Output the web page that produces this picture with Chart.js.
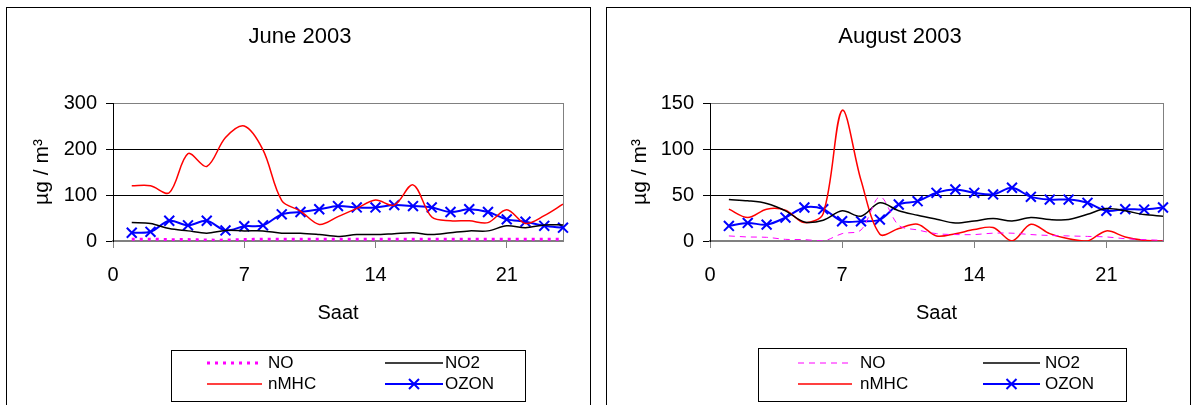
<!DOCTYPE html>
<html><head><meta charset="utf-8">
<script src="https://cdn.jsdelivr.net/npm/chart.js@4.4.1/dist/chart.umd.min.js"></script>
<style>
html,body{margin:0;padding:0;background:#fff;width:1191px;height:405px;overflow:hidden;}
.panel{position:absolute;border:1px solid #000;box-sizing:border-box;}
#p1{left:6px;top:7px;width:585px;height:420px;}
#p2{left:606px;top:7px;width:585px;height:420px;}
.cv{position:absolute;top:0;}
#w1{left:0;width:598px;height:405px;}
#w2{left:598px;width:593px;height:405px;}
canvas{display:block;}
</style></head><body>
<div class="panel" id="p1"></div><div class="panel" id="p2"></div>
<div class="cv" id="w1"><canvas id="c1" width="598" height="405"></canvas></div>
<div class="cv" id="w2"><canvas id="c2" width="593" height="405"></canvas></div>
<script>
// ---- data ----
const hours = [1,2,3,4,5,6,7,8,9,10,11,12,13,14,15,16,17,18,19,20,21,22,23,24];
const xTickLabels = [0,7,14,21];
const seriesLabels = ['NO','NO2','nMHC','OZON'];

const juneTitle = 'June 2003';
const juneNO   = [4,4,3,3,2,2,3,4,4,4,4,4,4,4,4,4,4,4,4,4,4,4,4,4];
const juneNO2  = [40,38,27,22,17,23,22,22,17,17,14,10,14,14,16,18,14,18,22,22,33,29,35,35];
const juneNMHC = [120,120,105,190,162,225,250,198,88,65,36,53,71,89,78,122,52,44,44,40,68,38,55,80];
const juneOZON = [18,20,44,34,44,23,32,34,58,63,69,76,73,73,78,76,73,63,69,63,47,42,33,29];
const juneYMax = 300, juneYStep = 100;

const augTitle = 'August 2003';
const augNO   = [5.5,4.4,4,1.8,1.5,0,8,12,48,17,12,8,7,7,8.5,8.5,7,6,5.5,5,4.4,2.5,1.5,0.7];
const augNO2  = [45,43.7,40.8,32.8,20.7,22.6,32.8,27,41.5,32.8,28,23.7,19.6,21.8,24.4,21.8,25.5,23.3,23.3,29,35.3,32.8,28.7,27];
const augNMHC = [34.6,25.5,34.6,33.5,20,30,142,66,7.3,13.5,18.2,5.5,8,12.4,14.6,0,18.2,8,2.5,0,11,4.4,0.7,0];
const augOZON = [16.4,19.6,17.8,25.5,36.4,34.6,21.5,21.5,23.3,39.7,43.3,52.4,56,52.4,50.6,57.9,48,45,45,41.5,32.8,34.6,34.2,36.4];
const augYMax = 150, augYStep = 50;

const xTitle = 'Saat';
const yTitle = 'µg / m³';

// ---- rendering ----
const FONT = '"Liberation Sans", Arial, Helvetica, sans-serif';
Chart.defaults.font.family = FONT;
Chart.defaults.font.size = 20;
Chart.defaults.color = '#000';

function pts(arr){ return hours.map((h,i)=>({x:h, y:arr[i]})); }

const panelDecor = {
  id: 'panelDecor',
  beforeDatasetsDraw(chart){
    const {ctx, chartArea:a} = chart;
    ctx.save();
    ctx.strokeStyle = '#808080'; ctx.lineWidth = 1;
    ctx.beginPath(); ctx.moveTo(a.right+0.5, a.top); ctx.lineTo(a.right+0.5, a.bottom); ctx.stroke();
    ctx.restore();
  },
  afterDraw(chart, args, o){
    const ctx = chart.ctx;
    ctx.save();
    ctx.fillStyle = '#000';
    ctx.font = '22px ' + FONT;
    ctx.textAlign = 'center'; ctx.textBaseline = 'middle';
    ctx.fillText(o.title, o.titleX, o.titleY);
    // legend
    const L = o.legend;
    ctx.strokeStyle = '#000'; ctx.lineWidth = 1;
    ctx.strokeRect(L.box[0]+0.5, L.box[1]+0.5, L.box[2], L.box[3]);
    chart.data.datasets.forEach((ds,i)=>{
      const it = L.items[i];
      ctx.save();
      ctx.beginPath();
      ctx.setLineDash(ds.borderDash || []);
      ctx.strokeStyle = ds.borderColor; ctx.lineWidth = ds.borderWidth;
      ctx.moveTo(it[0], it[3]); ctx.lineTo(it[1], it[3]); ctx.stroke();
      ctx.setLineDash([]);
      if (ds.pointRadius > 0) {
        const cx = (it[0]+it[1])/2, r = 5;
        ctx.lineWidth = ds.pointBorderWidth;
        ctx.beginPath();
        ctx.moveTo(cx-r, it[3]-r); ctx.lineTo(cx+r, it[3]+r);
        ctx.moveTo(cx-r, it[3]+r); ctx.lineTo(cx+r, it[3]-r);
        ctx.stroke();
      }
      ctx.restore();
      ctx.fillStyle = '#000';
      ctx.font = '17px ' + FONT;
      ctx.textAlign = 'left'; ctx.textBaseline = 'middle';
      ctx.fillText(ds.label, it[2], it[3]);
    });
    ctx.restore();
  }
};

function makeChart(id, c){
  new Chart(document.getElementById(id), {
    type: 'line',
    data: { datasets: [
      {label: seriesLabels[0], data: pts(c.no), borderColor:'#FF00FF', borderWidth:c.noWidth, borderDash:c.noDash, pointRadius:0, tension:0.33},
      {label: seriesLabels[1], data: pts(c.no2), borderColor:'#000000', borderWidth:1.5, pointRadius:0, tension:0.33},
      {label: seriesLabels[2], data: pts(c.nmhc), borderColor:'#FF0000', borderWidth:1.5, pointRadius:0, tension:0.33},
      {label: seriesLabels[3], data: pts(c.ozon), borderColor:'#0000FF', borderWidth:2, pointStyle:'crossRot', pointRadius:7, pointBorderWidth:2, pointBorderColor:'#0000FF', pointBackgroundColor:'#0000FF', tension:0.33, clip:false}
    ]},
    options: {
      responsive:false, animation:false, events:[],
      layout:{padding:{left:0, right:c.padR, top:103, bottom:0}},
      plugins:{legend:{display:false}, tooltip:{enabled:false}, title:{display:false},
        panelDecor:{title:c.title, titleX:c.titleX, titleY:37, legend:c.legend}},
      scales:{
        x:{type:'linear', min:0, max:24, bounds:'data',
          afterBuildTicks(s){ s.ticks = xTickLabels.map(v=>({value:v})); },
          ticks:{padding:15, color:'#000', font:{size:20}},
          grid:{drawOnChartArea:false, drawTicks:true, tickLength:7, color:'#808080'},
          border:{color:'#808080', width:2},
          title:{display:true, text:xTitle, color:'#000', font:{size:20}, padding:{top:0, bottom:80}},
          afterFit(s){ s.height = 164; }},
        y:{type:'linear', min:0, max:c.ymax,
          ticks:{stepSize:c.ystep, padding:9, color:'#000', font:{size:20}},
          grid:{color:(ctx)=> ctx.tick && ctx.tick.value===c.ymax ? '#808080' : '#000000', tickColor:'#000', tickLength:7},
          border:{color:'#000', width:1},
          title:{display:true, text:yTitle, color:'#000', font:{size:21}, padding:{top:30, bottom:0}},
          afterFit(s){ s.width = c.yW; }}
      }
    },
    plugins:[panelDecor]
  });
}

makeChart('c1', {title:juneTitle, titleX:300, no:juneNO, no2:juneNO2, nmhc:juneNMHC, ozon:juneOZON,
  ymax:juneYMax, ystep:juneYStep, noWidth:3, noDash:[3,5], padR:35, yW:113,
  legend:{box:[171,350,354,51], items:[[207,262,268,363],[385,443,445,363],[207,262,268,384],[385,443,445,384]]}});
makeChart('c2', {title:augTitle, titleX:302, no:augNO, no2:augNO2, nmhc:augNMHC, ozon:augOZON,
  ymax:augYMax, ystep:augYStep, noWidth:1, noDash:[6,5], padR:28, yW:112,
  legend:{box:[160,348,368,53], items:[[200,254,262,363],[385,442,447,363],[200,254,262,384],[385,442,447,384]]}});
</script>
</body></html>
